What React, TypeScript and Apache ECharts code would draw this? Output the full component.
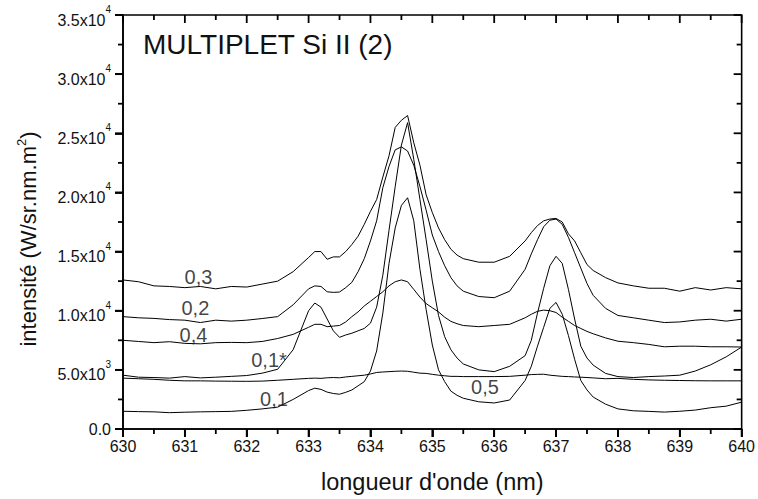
import React, { useEffect, useRef } from "react";
import * as echarts from "echarts";

// wavelength (nm)
const wavelength = [
  630, 630.25, 630.5, 630.75, 631, 631.25, 631.5, 631.75, 632, 632.25, 632.5, 632.75, 633,
  633.1, 633.2, 633.3, 633.4, 633.5, 633.6, 633.7, 633.8, 633.9, 634, 634.1, 634.2, 634.3,
  634.4, 634.5, 634.6, 634.7, 634.8, 634.9, 635, 635.1, 635.2, 635.3, 635.4, 635.5,
  635.75, 636, 636.25, 636.5,
  636.6, 636.7, 636.8, 636.9, 637, 637.1, 637.2, 637.3, 637.4, 637.5, 637.6,
  637.8,
  638, 638.25, 638.5, 638.75, 639, 639.25, 639.5, 639.75, 640,
];

// intensities (W/sr.nm.m2)
const int03 = [
  12600, 12450, 12100, 12050, 11950, 12050, 11850, 12050, 12000, 12250, 12500, 13300, 14500,
  15000, 15000, 14350, 14550, 14550, 15000, 15600, 16300, 17300, 18400, 19400, 21300, 23100,
  25500, 26100, 26500, 24200, 22300, 19800, 18300, 17000, 16000, 15200, 14700, 14400,
  14100, 14100, 14600, 15900,
  16600, 17200, 17600, 17750, 17800, 17500, 16500, 15900, 14900, 13900, 13400,
  12800,
  12350, 12100, 11900, 11900, 11650, 11950, 11750, 11950, 11850,
];
const int02 = [
  9500, 9400, 9350, 9250, 9200, 9000, 9200, 9120, 9200, 9340, 9500, 10500, 11850,
  12100, 12050, 11600, 11550, 11580, 11950, 12400, 13300, 14400, 15900, 17600, 20400, 22200,
  23600, 23850, 23500, 22300, 20500, 18500, 16400, 15000, 13800, 12800, 12100, 11650,
  11200, 11100, 11650, 13500,
  14800, 16000, 17100, 17650, 17750, 17300, 16200, 14900, 13600, 12300, 11300,
  10200,
  9600, 9400, 9200, 9000, 9050, 9200, 9280, 9120, 9280,
];
const int04 = [
  7500, 7400, 7300, 7380, 7240, 7200, 7300, 7320, 7300, 7400, 7650, 8000, 8600,
  8850, 8850, 8650, 8700, 8750, 9050, 9500, 9900, 10400, 10800, 11200, 11600, 12100,
  12450, 12600, 12450, 11800, 11150, 10600, 10250, 9900, 9450, 9100, 8900, 8750,
  8650, 8750, 8850, 9400,
  9700, 9950, 10050, 10000, 9850, 9450, 9100, 8750, 8500, 8250, 8050,
  7700,
  7420, 7300, 7150, 6950, 7000, 7000, 6950, 6950, 6930,
];
const int01s = [
  4550, 4380, 4350, 4300, 4430, 4320, 4380, 4450, 4520, 4720, 5050, 6700, 10000,
  10650, 10300, 9300, 8300, 7750, 7950, 8100, 8300, 8500, 8950, 10300, 13000, 16800,
  20500, 24000, 25900, 22800, 19400, 16000, 12500, 9600, 7800, 6700, 6000, 5500,
  5000, 4850, 5300, 6200,
  7500, 9800, 11900, 13800, 14600, 14000, 11800, 9300, 7000, 6000, 5400,
  4700,
  4430, 4350, 4430, 4480, 4550, 4900, 5430, 6100, 6930,
];
const int05 = [
  4300, 4250, 4200, 4120, 4070, 4070, 4050, 4040, 4030, 4050, 4120, 4200, 4280,
  4300, 4280, 4330, 4350, 4330, 4400, 4450, 4500, 4550, 4650, 4780, 4820, 4850,
  4880, 4900, 4880, 4800, 4720, 4700, 4620, 4550, 4500, 4450, 4450, 4430,
  4430, 4430, 4450, 4550,
  4600, 4620, 4630, 4550, 4500, 4450, 4430, 4400, 4380, 4350, 4320,
  4250,
  4280, 4200, 4150, 4120, 4100, 4080, 4070, 4070, 4070,
];
const int01 = [
  1500, 1470, 1450, 1380, 1420, 1450, 1470, 1490, 1580, 1700, 1850, 2500, 3250,
  3450, 3350, 3120, 3000, 2940, 3100, 3300, 3650, 4000, 4900, 6600, 9800, 14000,
  17000, 18900, 19550, 17600, 13500, 10100, 7100, 5000, 4000, 3200, 2850, 2600,
  2300, 2200, 2450, 4100,
  5300, 7000, 8600, 10200, 10700, 9700, 7900, 5900, 4100, 3300, 2700,
  2100,
  1700, 1540, 1490, 1430, 1500, 1600, 1800, 1930, 2270,
];

const seriesNames = ["0,3", "0,2", "0,4", "0,1*", "0,5", "0,1"];
const seriesValues = [int03, int02, int04, int01s, int05, int01];

// curve annotations (data coordinates)
const curveLabels = ["0,3", "0,2", "0,4", "0,1*", "0,1", "0,5"];
const curveLabelX = [631.22, 631.17, 631.14, 632.36, 632.44, 635.85];
const curveLabelY = [12870, 10260, 7910, 5800, 2520, 3530];

// ticks
const xMajorTicks = [630, 631, 632, 633, 634, 635, 636, 637, 638, 639, 640];
const xMinorTicks = [630.5, 631.5, 632.5, 633.5, 634.5, 635.5, 636.5, 637.5, 638.5, 639.5];
const yMajorTicks = [0, 5000, 10000, 15000, 20000, 25000, 30000, 35000];
const yMinorTicks = [2500, 7500, 12500, 17500, 22500, 27500, 32500];

// y tick labels
const yTickBase = ["0.0", "5.0x10", "1.0x10", "1.5x10", "2.0x10", "2.5x10", "3.0x10", "3.5x10"];
const yTickExp = ["", "3", "4", "4", "4", "4", "4", "4"];

const titleText = "MULTIPLET Si II (2)";
const xTitle = "longueur d'onde (nm)";
const yTitleMain = "intensité (W/sr.nm.m";
const yTitleSup = "2";

const FONT = "'Liberation Sans', Arial, Helvetica, sans-serif";
const INK = "#111";

const X_MIN = 630;
const X_MAX = 640;
const Y_MIN = 0;
const Y_MAX = 35000;

export default function App() {
  const ref = useRef<HTMLDivElement>(null);

  useEffect(() => {
    if (!ref.current) return;
    const chart = echarts.init(ref.current, null, { renderer: "svg" });

    const lineSeries = seriesValues.map((vals, k) => ({
      name: seriesNames[k],
      type: "line",
      showSymbol: false,
      symbol: "none",
      smooth: false,
      lineStyle: { color: "#000", width: 1 },
      data: wavelength.map((x, i) => [x, vals[i]]),
      z: 3,
    }));

    const labelSeries = {
      type: "scatter",
      symbolSize: 1,
      itemStyle: { color: "rgba(0,0,0,0)" },
      z: 5,
      label: {
        show: true,
        position: "inside",
        formatter: "{b}",
        fontSize: 20,
        fontFamily: FONT,
        color: INK,
      },
      data: curveLabels.map((n, i) => ({ name: n, value: [curveLabelX[i], curveLabelY[i]] })),
    };

    // kind: 0 x-major, 1 x-minor, 2 y-major, 3 y-minor
    const tickData = [
      ...xMajorTicks.map((v) => [X_MIN, Y_MIN, v, 0]),
      ...xMinorTicks.map((v) => [X_MIN, Y_MIN, v, 1]),
      ...yMajorTicks.map((v) => [X_MIN, Y_MIN, v, 2]),
      ...yMinorTicks.map((v) => [X_MIN, Y_MIN, v, 3]),
    ];
    // side 0: bottom/left (outward), side 1: top/right (inward)
    const tickSeries = [0, 1].map((side) => ({
      type: "custom",
      clip: false,
      z: 10,
      encode: { x: 0, y: 1 },
      data: tickData,
      renderItem: (_p: any, api: any) => {
        const v = api.value(2);
        const kind = api.value(3);
        const len = kind % 2 === 0 ? 8 : 5;
        const style = { stroke: "#000", lineWidth: 1.8 };
        if (kind < 2) {
          const p = api.coord([v, side === 0 ? Y_MIN : Y_MAX]);
          return { type: "line", shape: { x1: p[0], y1: p[1], x2: p[0], y2: p[1] + len }, style };
        }
        const p = api.coord([side === 0 ? X_MIN : X_MAX, v]);
        return { type: "line", shape: { x1: p[0] - len, y1: p[1], x2: p[0], y2: p[1] }, style };
      },
    }));

    chart.setOption({
      animation: false,
      title: {
        text: titleText,
        left: 143,
        top: 30,
        padding: 0,
        textStyle: { fontSize: 28, fontWeight: "normal", color: INK, fontFamily: FONT, lineHeight: 28 },
      },
      grid: {
        left: 123,
        right: 13,
        top: 15,
        bottom: 68,
        show: true,
        borderColor: "#000",
        borderWidth: 1.6,
        backgroundColor: "transparent",
      },
      xAxis: {
        type: "value",
        min: X_MIN,
        max: X_MAX,
        interval: 1,
        splitLine: { show: false },
        axisLine: { show: true, onZero: false, lineStyle: { color: "#000", width: 1.6 } },
        axisTick: { show: true, length: 8, lineStyle: { color: "#000", width: 1.8 } },
        axisLabel: { fontSize: 16, color: INK, margin: 9, fontFamily: FONT },
        name: xTitle,
        nameLocation: "middle",
        nameGap: 41,
        nameTextStyle: { fontSize: 23.5, color: INK, fontFamily: FONT },
      },
      yAxis: {
        type: "value",
        min: Y_MIN,
        max: Y_MAX,
        interval: 5000,
        splitLine: { show: false },
        axisLine: { show: true, onZero: false, lineStyle: { color: "#000", width: 1.6 } },
        axisTick: { show: true, length: 8, lineStyle: { color: "#000", width: 1.8 } },
        axisLabel: {
          margin: 12,
          color: INK,
          formatter: (v: number) => {
            const i = Math.round(v / 5000);
            if (!yTickExp[i]) return `{z|${yTickBase[i]}}`;
            return `{m|${yTickBase[i]}}{s|${yTickExp[i]}}`;
          },
          rich: {
            z: { fontSize: 16, fontFamily: FONT, color: INK, lineHeight: 18 },
            m: { fontSize: 16, fontFamily: FONT, color: INK, lineHeight: 16, padding: [10, 0, 0, 0] },
            s: { fontSize: 10, fontFamily: FONT, color: INK, lineHeight: 21, verticalAlign: "top" },
          },
        },
        name: `{a|${yTitleMain}}{b|${yTitleSup}}{a|)}`,
        nameLocation: "middle",
        nameRotate: 90,
        nameGap: 82,
        nameTextStyle: {
          color: INK,
          padding: [0, 34, 0, 0],
          rich: {
            a: { fontSize: 22, fontFamily: FONT, color: INK, lineHeight: 26 },
            b: { fontSize: 13, fontFamily: FONT, color: INK, lineHeight: 14, verticalAlign: "top" },
          },
        },
      },
      series: [...lineSeries, labelSeries, ...tickSeries],
    });

    return () => chart.dispose();
  }, []);

  return (
    <div
      ref={ref}
      style={{ position: "fixed", left: 0, top: 0, width: 758, height: 499, background: "#fff" }}
    />
  );
}
